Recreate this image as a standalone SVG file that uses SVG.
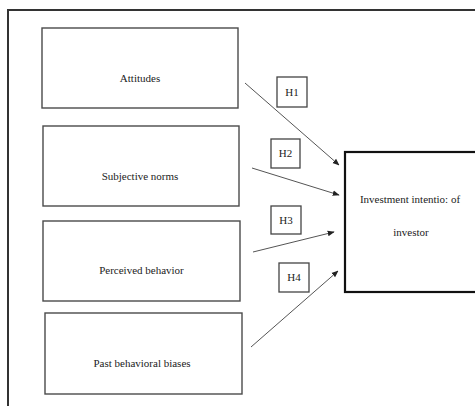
<svg xmlns="http://www.w3.org/2000/svg" width="475" height="406" viewBox="0 0 475 406">
  <style>
    .frame { fill: none; stroke: #333; stroke-width: 2; }
    .box { fill: #fff; stroke: #4a4a4a; stroke-width: 1.4; }
    .target { fill: #fff; stroke: #111; stroke-width: 2.2; }
    .hbox { fill: #fff; stroke: #444; stroke-width: 1.3; }
    .lbl { font-family: "Liberation Serif", "Times New Roman", serif; font-size: 11px; fill: #222; text-anchor: middle; }
    .edge { fill: none; stroke: #555; stroke-width: 1; marker-end: url(#arrow); }
  </style>
  <defs>
    <marker id="arrow" viewBox="0 0 10 10" refX="9" refY="5" markerWidth="7" markerHeight="7" markerUnits="userSpaceOnUse" orient="auto">
      <path d="M0,1 L10,5 L0,9 Z" fill="#222"/>
    </marker>
  </defs>
  <rect width="475" height="406" fill="#fff"/>

  <!-- outer frame -->
  <rect class="frame" x="8" y="10" width="480" height="410"/>

  <g id="attitudes">
    <rect class="box" x="42" y="28" width="196" height="80"/>
    <text class="lbl" x="140" y="82">Attitudes</text>
  </g>
  <g id="subjective-norms">
    <rect class="box" x="43" y="126" width="196" height="80"/>
    <text class="lbl" x="140" y="180">Subjective norms</text>
  </g>
  <g id="perceived-behavior">
    <rect class="box" x="43" y="221" width="197" height="80"/>
    <text class="lbl" x="141.5" y="274">Perceived behavior</text>
  </g>
  <g id="past-biases">
    <rect class="box" x="45" y="313" width="197" height="81"/>
    <text class="lbl" x="142" y="367">Past behavioral biases</text>
  </g>
  <g id="investment-intention">
    <rect class="target" x="345" y="152" width="140" height="140"/>
    <text class="lbl" x="410" y="203">Investment intentio: of</text>
    <text class="lbl" x="411" y="236">investor</text>
  </g>

  <g id="connectors">
    <line class="edge" x1="245" y1="83" x2="339" y2="165"/>
    <line class="edge" x1="252" y1="168" x2="339" y2="195"/>
    <line class="edge" x1="253" y1="252" x2="334" y2="232"/>
    <line class="edge" x1="251" y1="347" x2="338" y2="271"/>
  </g>

  <g id="h1">
    <rect class="hbox" x="277" y="77" width="30" height="30"/>
    <text class="lbl" x="292" y="96">H1</text>
  </g>
  <g id="h2">
    <rect class="hbox" x="271" y="139" width="29" height="29"/>
    <text class="lbl" x="285.5" y="157">H2</text>
  </g>
  <g id="h3">
    <rect class="hbox" x="271" y="206" width="30" height="28"/>
    <text class="lbl" x="286" y="224">H3</text>
  </g>
  <g id="h4">
    <rect class="hbox" x="279" y="263" width="30" height="29"/>
    <text class="lbl" x="294" y="281">H4</text>
  </g>
</svg>
